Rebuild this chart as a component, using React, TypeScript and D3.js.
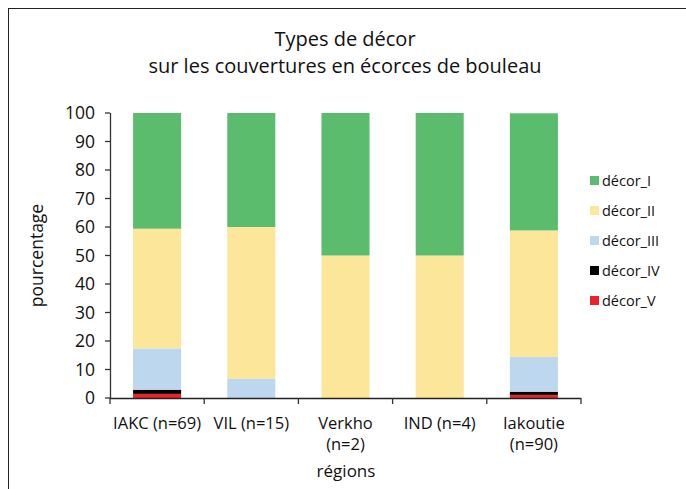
import React from "react";
import * as d3 from "d3";

const categories = ["IAKC (n=69)", "VIL (n=15)", "Verkho\n(n=2)", "IND (n=4)", "Iakoutie\n(n=90)"];
const seriesNames = ["décor_I", "décor_II", "décor_III", "décor_IV", "décor_V"];
const decorI = [40.6, 40.0, 50.0, 50.0, 41.1];
const decorII = [42.0, 53.3, 50.0, 50.0, 44.4];
const decorIII = [14.5, 6.7, 0, 0, 12.2];
const decorIV = [1.45, 0, 0, 0, 1.1];
const decorV = [1.45, 0, 0, 0, 1.1];
const yTicks = [0, 10, 20, 30, 40, 50, 60, 70, 80, 90, 100];
const colors = ["#5BBC6E", "#FBE69A", "#BDD7EE", "#000000", "#E8232A"];

const FONT = "'Open Sans', 'Noto Sans', sans-serif";

export default function App() {
  const W = 686, H = 489;
  const x0 = 110, x1 = 581, yTop = 113, yBot = 398;
  const x = d3.scaleBand<number>().domain(d3.range(categories.length)).range([x0, x1]).paddingInner(0).paddingOuter(0);
  const y = d3.scaleLinear().domain([0, 100]).range([yBot, yTop]);
  const values = [decorI, decorII, decorIII, decorIV, decorV];
  const order = [4, 3, 2, 1, 0];
  const bw = x.bandwidth() * 0.51;

  const rects: React.ReactNode[] = [];
  categories.forEach((_, ci) => {
    let acc = 0;
    order.forEach((si) => {
      const v = values[si][ci];
      if (v > 0) {
        const yt = y(acc + v), yb = y(acc);
        rects.push(
          <rect key={`${ci}-${si}`} x={(x(ci) as number) + x.bandwidth() / 2 - bw / 2} y={yt} width={bw} height={yb - yt} fill={colors[si]} />
        );
      }
      acc += v;
    });
  });

  const legendY = [181, 211, 241, 271, 301];

  return (
    <svg width={W} height={H} style={{ position: "absolute", left: 0, top: 0, background: "#fff" }} fontFamily={FONT}>
      <rect x={0} y={0} width={W} height={H} fill="#fff" />
      <rect x={8.5} y={8.5} width={700} height={500} fill="none" stroke="#222" strokeWidth={1} />
      <text x={345} y={46} textAnchor="middle" fontSize={20} fill="#111">Types de décor</text>
      <text x={345} y={73} textAnchor="middle" fontSize={20} fill="#111">sur les couvertures en écorces de bouleau</text>
      {rects}
      <line x1={x0 + 0.5} x2={x0 + 0.5} y1={yTop} y2={yBot} stroke="#333" strokeWidth={1.3} />
      {yTicks.map((t) => (
        <g key={t}>
          <line x1={x0 - 5} x2={x0} y1={y(t)} y2={y(t)} stroke="#333" strokeWidth={1.3} />
          <text x={95} y={y(t) + 6} textAnchor="end" fontSize={17.5} fill="#111">{t}</text>
        </g>
      ))}
      <line x1={x0} x2={x1} y1={yBot + 0.5} y2={yBot + 0.5} stroke="#222" strokeWidth={1.5} />
      {d3.range(categories.length + 1).map((i) => {
        const xx = i < categories.length ? (x(i) as number) : x1;
        return <line key={i} x1={xx} x2={xx} y1={yBot} y2={yBot + 6} stroke="#333" strokeWidth={1.3} />;
      })}
      {categories.map((c, i) => {
        const cx = (x(i) as number) + x.bandwidth() / 2;
        return c.split("\n").map((ln, k) => (
          <text key={`${i}-${k}`} x={cx} y={429 + k * 21} textAnchor="middle" fontSize={16.5} fill="#111">{ln}</text>
        ));
      })}
      <text x={346} y={477} textAnchor="middle" fontSize={17} fill="#111">régions</text>
      <text transform={`translate(43,${(yTop + yBot) / 2}) rotate(-90)`} textAnchor="middle" fontSize={17.5} fill="#111">pourcentage</text>
      {seriesNames.map((s, i) => (
        <g key={s}>
          <rect x={590} y={legendY[i] - 5} width={9} height={9} fill={colors[i]} />
          <text x={602} y={legendY[i] + 5} fontSize={14.5} fill="#111">{s}</text>
        </g>
      ))}
    </svg>
  );
}
